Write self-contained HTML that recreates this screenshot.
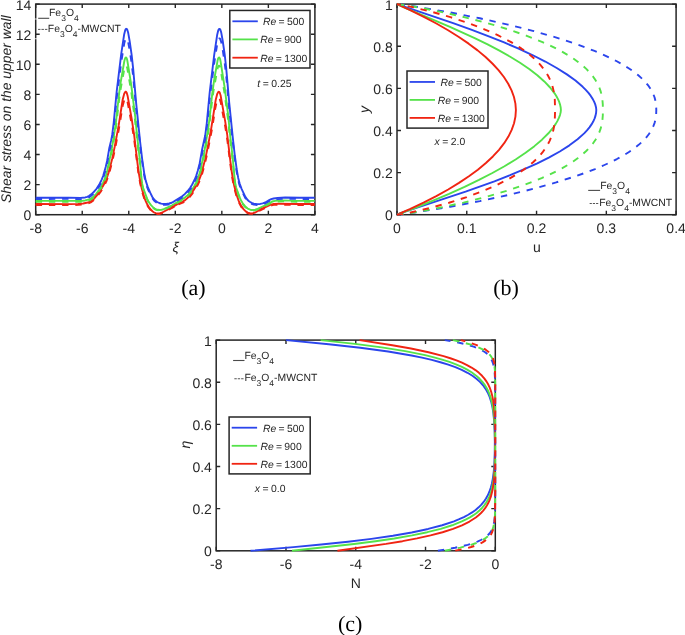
<!DOCTYPE html>
<html><head><meta charset="utf-8"><style>
html,body{margin:0;padding:0;background:#fff}
body{width:685px;height:635px;overflow:hidden}
svg{display:block;will-change:transform}
text{font-family:"Liberation Sans",sans-serif;fill:#262626;text-rendering:geometricPrecision}
.t{font-size:14px}
.l{font-size:10.4px;fill:#262626;word-spacing:-0.6px}
.s{font-size:10.4px;fill:#262626;word-spacing:-0.4px}
.fe{font-size:10.4px;fill:#262626}
.yl{font-size:13.9px;font-style:italic}
.p{font-family:"Liberation Serif",serif;font-size:22px;fill:#000}
</style></head><body>
<svg width="685" height="635" viewBox="0 0 685 635">
<rect width="685" height="635" fill="#fff"/>
<path d="M35.70 214.7v-4M35.70 4.1v4M82.23 214.7v-4M82.23 4.1v4M128.77 214.7v-4M128.77 4.1v4M175.30 214.7v-4M175.30 4.1v4M221.83 214.7v-4M221.83 4.1v4M268.37 214.7v-4M268.37 4.1v4M314.90 214.7v-4M314.90 4.1v4M35.7 214.70h4M314.9 214.70h-4M35.7 184.61h4M314.9 184.61h-4M35.7 154.53h4M314.9 154.53h-4M35.7 124.44h4M314.9 124.44h-4M35.7 94.36h4M314.9 94.36h-4M35.7 64.27h4M314.9 64.27h-4M35.7 34.19h4M314.9 34.19h-4M35.7 4.10h4M314.9 4.10h-4" stroke="#262626" stroke-width="1.4" fill="none"/>
<rect x="35.7" y="4.1" width="279.20" height="210.60" fill="none" stroke="#262626" stroke-width="1.5"/>
<text x="35.70" y="233.20" text-anchor="middle" class="t">-8</text>
<text x="82.23" y="233.20" text-anchor="middle" class="t">-6</text>
<text x="128.77" y="233.20" text-anchor="middle" class="t">-4</text>
<text x="175.30" y="233.20" text-anchor="middle" class="t">-2</text>
<text x="221.83" y="233.20" text-anchor="middle" class="t">0</text>
<text x="268.37" y="233.20" text-anchor="middle" class="t">2</text>
<text x="314.90" y="233.20" text-anchor="middle" class="t">4</text>
<text x="31.40" y="220.30" text-anchor="end" class="t">0</text>
<text x="31.40" y="190.21" text-anchor="end" class="t">2</text>
<text x="31.40" y="160.13" text-anchor="end" class="t">4</text>
<text x="31.40" y="130.04" text-anchor="end" class="t">6</text>
<text x="31.40" y="99.96" text-anchor="end" class="t">8</text>
<text x="31.40" y="69.87" text-anchor="end" class="t">10</text>
<text x="31.40" y="39.79" text-anchor="end" class="t">12</text>
<text x="31.40" y="9.70" text-anchor="end" class="t">14</text>
<path d="M397.00 214.7v-4M397.00 4.1v4M466.77 214.7v-4M466.77 4.1v4M536.55 214.7v-4M536.55 4.1v4M606.33 214.7v-4M606.33 4.1v4M676.10 214.7v-4M676.10 4.1v4M397.0 214.70h4M676.1 214.70h-4M397.0 172.58h4M676.1 172.58h-4M397.0 130.46h4M676.1 130.46h-4M397.0 88.34h4M676.1 88.34h-4M397.0 46.22h4M676.1 46.22h-4M397.0 4.10h4M676.1 4.10h-4" stroke="#262626" stroke-width="1.4" fill="none"/>
<rect x="397.0" y="4.1" width="279.10" height="210.60" fill="none" stroke="#262626" stroke-width="1.5"/>
<text x="397.00" y="233.20" text-anchor="middle" class="t">0</text>
<text x="466.77" y="233.20" text-anchor="middle" class="t">0.1</text>
<text x="536.55" y="233.20" text-anchor="middle" class="t">0.2</text>
<text x="606.33" y="233.20" text-anchor="middle" class="t">0.3</text>
<text x="676.10" y="233.20" text-anchor="middle" class="t">0.4</text>
<text x="392.70" y="220.30" text-anchor="end" class="t">0</text>
<text x="392.70" y="178.18" text-anchor="end" class="t">0.2</text>
<text x="392.70" y="136.06" text-anchor="end" class="t">0.4</text>
<text x="392.70" y="93.94" text-anchor="end" class="t">0.6</text>
<text x="392.70" y="51.82" text-anchor="end" class="t">0.8</text>
<text x="392.70" y="9.70" text-anchor="end" class="t">1</text>
<path d="M216.20 550.8v-4M216.20 340.1v4M285.98 550.8v-4M285.98 340.1v4M355.75 550.8v-4M355.75 340.1v4M425.52 550.8v-4M425.52 340.1v4M495.30 550.8v-4M495.30 340.1v4M216.2 550.80h4M495.3 550.80h-4M216.2 508.66h4M495.3 508.66h-4M216.2 466.52h4M495.3 466.52h-4M216.2 424.38h4M495.3 424.38h-4M216.2 382.24h4M495.3 382.24h-4M216.2 340.10h4M495.3 340.10h-4" stroke="#262626" stroke-width="1.4" fill="none"/>
<rect x="216.2" y="340.1" width="279.10" height="210.70" fill="none" stroke="#262626" stroke-width="1.5"/>
<text x="216.20" y="569.30" text-anchor="middle" class="t">-8</text>
<text x="285.98" y="569.30" text-anchor="middle" class="t">-6</text>
<text x="355.75" y="569.30" text-anchor="middle" class="t">-4</text>
<text x="425.52" y="569.30" text-anchor="middle" class="t">-2</text>
<text x="495.30" y="569.30" text-anchor="middle" class="t">0</text>
<text x="211.90" y="556.40" text-anchor="end" class="t">0</text>
<text x="211.90" y="514.26" text-anchor="end" class="t">0.2</text>
<text x="211.90" y="472.12" text-anchor="end" class="t">0.4</text>
<text x="211.90" y="429.98" text-anchor="end" class="t">0.6</text>
<text x="211.90" y="387.84" text-anchor="end" class="t">0.8</text>
<text x="211.90" y="345.70" text-anchor="end" class="t">1</text>
<path d="M35.70 197.80 68.70 197.67 80.70 197.90 85.20 197.44 87.20 196.83 89.20 195.82 91.20 194.35 93.20 192.56 96.70 188.62 99.70 183.71 101.70 179.61 103.20 175.86 105.70 167.01 107.20 160.40 109.20 148.58 111.20 140.15 112.20 134.92 113.70 122.94 116.70 91.40 121.20 54.11 124.20 34.22 125.20 30.25 125.70 29.24 126.20 28.82 126.70 28.92 127.20 29.56 128.20 32.82 129.70 41.40 131.70 55.35 133.20 69.17 136.20 103.61 140.20 142.52 142.20 159.37 144.20 173.11 145.70 180.62 147.70 186.89 150.20 192.66 152.20 196.72 153.70 199.00 155.20 200.56 157.20 201.99 159.20 202.99 161.20 203.63 163.70 203.98 166.20 203.95 169.20 203.51 171.70 202.72 173.70 201.67 182.20 196.29 184.70 194.11 187.70 190.98 190.20 187.78 192.20 184.51 194.70 179.54 196.20 175.88 197.70 171.00 199.70 163.14 202.20 149.03 205.20 135.51 206.70 123.87 209.70 92.29 214.20 54.88 217.20 34.73 218.20 30.53 218.70 29.39 219.20 28.86 219.70 28.86 220.20 29.38 221.20 32.38 222.70 40.76 224.70 54.56 226.20 68.13 229.20 102.59 232.70 136.83 234.70 154.63 236.70 169.38 238.20 177.96 239.70 183.81 241.70 189.09 245.20 196.59 247.20 199.55 248.70 200.99 250.20 202.04 251.70 202.86 253.70 203.61 257.20 204.12 260.20 203.93 262.70 203.41 265.20 202.45 269.20 200.12 271.20 199.18 273.70 198.49 277.70 197.90 285.20 197.49 299.70 197.78 314.70 197.80" stroke="#2b45ec" stroke-width="1.9" fill="none" stroke-linejoin="round"/>
<path d="M35.70 200.90 79.20 200.92 82.70 200.78 85.20 200.46 89.20 199.32 91.20 198.29 92.70 197.27 94.70 195.50 96.20 193.85 99.70 188.98 101.70 185.53 103.20 182.48 104.70 178.89 106.20 174.55 107.20 170.78 108.70 163.16 110.70 154.59 112.70 143.28 115.70 124.41 119.20 92.97 120.70 82.06 124.20 61.76 124.70 59.59 125.20 58.20 125.70 57.57 126.20 57.57 126.70 58.26 127.20 59.95 131.20 84.71 135.20 116.61 137.20 136.85 139.70 158.60 141.20 175.69 142.20 183.88 143.20 188.03 147.20 198.88 148.20 200.98 149.70 203.44 151.20 205.38 153.20 207.43 154.70 208.55 156.20 209.34 157.70 209.81 159.70 210.01 161.70 209.77 163.70 209.18 171.70 205.64 185.20 197.33 187.70 195.12 189.70 192.86 192.20 189.43 194.20 186.21 196.20 182.36 197.70 178.88 199.20 174.67 200.20 171.05 204.20 152.50 208.20 128.57 209.70 117.18 212.20 93.83 214.20 79.63 217.70 59.97 218.20 58.41 218.70 57.64 219.20 57.52 219.70 58.05 220.20 59.52 220.70 62.15 224.70 87.78 228.20 115.74 230.20 135.88 232.70 157.57 234.20 174.62 235.20 183.28 236.20 187.73 239.70 197.39 241.20 200.78 242.70 203.30 245.20 206.40 247.70 208.52 250.20 209.70 251.70 210.00 253.20 210.04 255.20 209.73 257.70 208.86 265.20 205.41 271.20 202.01 273.20 201.25 275.20 200.82 278.70 200.50 282.70 200.39 298.70 200.89 314.70 200.90" stroke="#55e24a" stroke-width="1.9" fill="none" stroke-linejoin="round"/>
<path d="M35.70 204.00 70.70 204.11 78.20 203.90 83.20 203.45 87.70 202.53 90.70 201.29 92.20 200.33 93.70 199.07 96.70 195.71 100.70 190.09 103.70 184.89 106.70 178.27 108.70 172.35 112.20 158.67 114.70 146.76 118.70 125.13 122.70 99.49 124.20 93.78 125.20 91.98 125.70 91.70 126.20 91.89 126.70 92.67 127.70 96.32 131.70 118.90 134.20 135.45 137.20 161.09 138.70 172.30 140.20 181.35 141.70 188.36 144.20 197.14 145.70 201.15 147.20 204.33 148.70 206.85 150.70 209.50 152.70 211.48 154.20 212.50 155.70 213.15 157.70 213.51 159.70 213.37 161.70 212.78 173.20 206.57 178.20 203.57 182.70 201.56 184.70 200.45 187.20 198.38 190.20 194.94 193.70 190.06 196.70 184.97 199.20 179.69 201.20 174.33 205.20 159.13 207.70 147.32 211.20 128.62 215.70 100.00 217.20 94.04 218.20 92.08 218.70 91.72 219.20 91.81 219.70 92.46 220.70 95.85 225.20 121.32 227.20 134.69 231.20 168.07 232.70 178.00 234.20 185.77 236.20 193.63 238.70 200.91 241.20 205.91 243.70 209.36 245.70 211.34 247.70 212.62 249.70 213.27 251.70 213.38 253.20 213.16 255.20 212.49 261.20 209.18 269.70 205.09 271.70 204.31 273.70 203.88 279.20 203.70 297.20 204.03 314.70 204.00" stroke="#f02412" stroke-width="1.9" fill="none" stroke-linejoin="round"/>
<path d="M35.70 199.00 68.70 198.87 80.70 199.09 85.20 198.65 87.20 198.08 89.20 197.12 91.20 195.72 93.20 194.02 96.70 190.28 99.70 185.62 101.70 181.72 103.20 178.15 105.70 169.75 107.20 163.47 109.20 152.24 111.20 144.23 112.20 139.27 113.70 127.88 116.70 97.92 121.20 62.50 124.20 43.59 125.20 39.83 125.70 38.87 126.20 38.47 126.70 38.56 127.20 39.17 128.20 42.27 129.70 50.42 131.70 63.67 133.20 76.80 136.20 109.52 140.70 150.76 143.70 172.61 145.20 180.60 146.20 184.46 148.20 189.82 152.20 197.98 154.20 200.70 156.70 202.68 158.70 203.73 160.70 204.41 163.20 204.84 165.70 204.87 168.20 204.61 170.70 204.03 172.70 203.22 175.20 201.75" stroke="#2b45ec" stroke-width="1.9" fill="none" stroke-linejoin="round" stroke-dasharray="6.4 6.8" stroke-dashoffset="0.00"/>
<path d="M175.70 201.44 181.20 198.25 183.20 196.80 187.20 193.05 190.20 189.48 193.20 184.59 195.70 179.43 197.20 175.22 199.20 168.07 200.20 163.82 202.70 150.29 204.70 142.44 205.70 136.67 207.20 124.03 209.70 98.77 214.20 63.23 217.20 44.09 218.20 40.10 218.70 39.01 219.20 38.51 219.70 38.50 220.20 39.00 221.20 41.85 222.70 49.81 224.70 62.93 226.20 75.81 229.20 108.55 232.70 141.08 234.70 157.99 236.70 172.00 238.20 180.15 239.70 185.71 241.70 190.72 245.20 197.85 247.20 200.66 248.70 202.03 250.20 203.03 251.70 203.81 253.70 204.52 257.20 205.00 260.20 204.83 262.70 204.33 265.20 203.42 269.20 201.21 271.20 200.31 273.70 199.65 277.70 199.10 285.20 198.70 299.70 198.98 314.70 199.00" stroke="#2b45ec" stroke-width="1.9" fill="none" stroke-linejoin="round" stroke-dasharray="6.4 6.8" stroke-dashoffset="11.50"/>
<path d="M35.70 201.80 79.20 201.82 82.70 201.68 85.20 201.38 89.20 200.29 91.20 199.32 92.70 198.35 94.70 196.67 96.20 195.11 99.70 190.47 101.70 187.20 103.20 184.30 104.70 180.89 106.20 176.77 107.20 173.18 108.70 165.95 110.70 157.81 112.70 147.06 115.70 129.13 119.20 99.27 120.70 88.90 124.20 69.62 125.20 66.23 125.70 65.64 126.20 65.64 126.70 66.29 127.20 67.90 131.20 91.42 135.20 121.73 137.20 140.95 139.70 161.61 141.70 182.34 142.20 185.63 143.20 189.58 146.70 198.71 148.70 202.73 150.20 204.87 152.20 207.10 153.70 208.39 155.70 209.60 157.20 210.14 159.20 210.44 160.70 210.39 162.70 209.98 171.20 206.53 175.20 204.34" stroke="#55e24a" stroke-width="1.9" fill="none" stroke-linejoin="round" stroke-dasharray="6.4 6.8" stroke-dashoffset="0.00"/>
<path d="M175.70 204.02 185.20 198.41 187.70 196.31 189.70 194.16 192.70 190.18 195.20 186.11 197.20 182.05 199.20 176.88 200.20 173.44 202.20 164.09 203.70 158.22 205.20 150.47 208.20 133.09 209.20 126.26 212.20 100.08 213.70 89.52 217.70 67.91 218.20 66.44 218.70 65.70 219.20 65.59 219.70 66.10 220.20 67.49 220.70 69.99 224.70 94.34 228.20 120.90 230.20 140.03 232.70 160.64 234.20 176.83 235.20 185.07 236.20 189.29 239.70 198.47 241.20 201.69 242.70 204.08 245.20 207.02 247.70 209.04 250.20 210.16 251.70 210.45 253.20 210.48 255.20 210.18 257.70 209.37 265.20 206.08 271.20 202.86 273.20 202.13 275.20 201.72 282.70 201.32 298.70 201.79 314.70 201.80" stroke="#55e24a" stroke-width="1.9" fill="none" stroke-linejoin="round" stroke-dasharray="6.4 6.8" stroke-dashoffset="12.07"/>
<path d="M35.70 205.00 70.70 205.10 78.20 204.91 83.20 204.48 87.70 203.60 90.70 202.43 93.70 200.32 96.70 197.12 100.70 191.78 103.70 186.84 106.70 180.55 108.70 174.94 112.20 161.94 114.70 150.63 118.70 130.07 122.70 105.71 124.20 100.29 125.20 98.58 125.70 98.32 126.20 98.50 126.70 99.23 127.70 102.71 132.20 127.03 134.20 139.88 138.20 171.56 140.20 183.49 142.70 193.81 144.20 198.49 145.70 202.29 148.20 206.97 151.20 210.76 153.70 212.79 155.20 213.53 156.70 213.93 159.20 213.97 162.20 213.14 175.20 206.30" stroke="#f02412" stroke-width="1.9" fill="none" stroke-linejoin="round" stroke-dasharray="6.4 6.8" stroke-dashoffset="0.00"/>
<path d="M175.70 206.00 178.20 204.59 182.70 202.68 184.70 201.62 186.70 200.12 188.70 198.13 192.20 193.84 195.20 189.47 197.70 185.05 200.20 179.54 201.70 175.26 202.70 171.74 205.20 162.37 207.20 153.57 211.70 130.66 215.20 108.88 216.20 103.92 216.70 102.04 217.70 99.42 218.20 98.68 218.70 98.33 219.20 98.42 219.70 99.04 220.70 102.26 225.20 126.45 227.20 139.16 231.20 170.87 232.70 180.30 234.20 187.68 236.20 195.14 238.70 202.06 241.20 206.81 243.70 210.09 245.70 211.97 247.70 213.19 249.70 213.81 251.70 213.91 253.20 213.70 255.20 213.06 261.20 209.92 269.70 206.04 271.70 205.29 273.70 204.89 279.20 204.71 297.20 205.03 314.70 205.00" stroke="#f02412" stroke-width="1.9" fill="none" stroke-linejoin="round" stroke-dasharray="6.4 6.8" stroke-dashoffset="10.07"/>
<path d="M397.00 214.70 400.90 213.12 408.82 210.37 465.58 191.61 494.43 181.27 510.11 175.18 524.35 169.22 537.30 163.33 548.79 157.60 559.81 151.46 569.43 145.35 577.56 139.31 584.17 133.39 586.98 130.41 589.47 127.37 591.54 124.41 593.20 121.54 594.54 118.62 595.52 115.65 596.10 112.78 596.30 110.00 596.05 107.47 595.34 104.70 594.22 101.83 592.67 98.86 590.77 95.95 588.47 92.95 585.75 89.87 582.73 86.84 575.46 80.59 566.87 74.36 556.72 67.96 545.28 61.54 532.90 55.27 519.18 48.90 504.14 42.44 487.51 35.79 471.17 29.63 453.12 23.16 397.00 4.10" stroke="#2b45ec" stroke-width="1.9" fill="none" stroke-linejoin="round"/>
<path d="M397.00 214.70 414.71 208.01 432.43 200.91 449.08 193.85 464.58 186.86 478.99 179.92 492.37 173.00 504.49 166.22 515.62 159.44 525.58 152.76 534.40 146.14 541.99 139.66 548.42 133.27 553.61 126.99 555.73 123.89 557.50 120.88 558.91 117.95 559.97 115.10 560.65 112.36 560.90 110.00 560.69 107.47 560.14 104.84 559.22 101.96 557.99 99.13 556.43 96.21 554.61 93.33 550.07 87.47 544.30 81.44 537.32 75.29 529.20 69.06 520.01 62.80 510.21 56.76 499.47 50.67 487.59 44.43 474.67 38.07 449.93 26.80 405.70 8.09 397.00 4.10" stroke="#55e24a" stroke-width="1.9" fill="none" stroke-linejoin="round"/>
<path d="M397.00 214.70 409.83 209.12 423.54 202.63 436.30 196.09 448.20 189.46 458.99 182.91 468.92 176.28 477.87 169.68 485.89 163.03 492.89 156.46 499.01 149.82 504.19 143.17 508.40 136.56 511.69 129.91 514.04 123.24 515.44 116.60 515.90 110.00 515.41 103.60 513.96 97.00 511.55 90.38 508.22 83.75 503.90 77.03 498.71 70.39 492.61 63.75 485.55 57.05 477.60 50.38 468.65 43.64 458.85 36.96 448.11 30.26 436.38 23.53 423.81 16.84 410.22 10.14 397.00 4.10" stroke="#f02412" stroke-width="1.9" fill="none" stroke-linejoin="round"/>
<path d="M397.00 214.70 406.32 213.62 420.01 211.69 450.16 206.75 479.87 201.11 508.08 195.01 533.23 188.84 556.12 182.45 576.68 175.86 586.15 172.47 595.02 169.03 602.83 165.75 610.05 162.44 616.86 159.03 623.05 155.62 628.61 152.22 633.73 148.72 638.36 145.12 642.36 141.54 645.87 137.88 648.79 134.25 651.22 130.53 653.15 126.73 654.61 122.85 655.59 118.88 656.14 114.70 656.30 110.00 656.13 105.39 655.56 101.29 654.52 97.27 653.04 93.46 651.10 89.74 648.60 85.97 645.59 82.29 642.11 78.69 638.01 75.05 633.44 71.51 628.25 67.96 622.60 64.49 616.33 61.02 609.64 57.66 602.36 54.29 594.49 50.95 585.80 47.53 576.29 44.08 555.68 37.35 532.79 30.82 507.95 24.57 479.86 18.30 450.33 12.49 420.09 7.31 406.45 5.28 397.00 4.10" stroke="#2b45ec" stroke-width="1.9" fill="none" stroke-linejoin="round" stroke-dasharray="6.4 6.8" stroke-dashoffset="0.07"/>
<path d="M397.00 214.70 404.52 213.83 415.35 212.19 439.65 207.76 463.46 202.58 486.37 196.79 506.60 190.88 525.05 184.65 533.57 181.43 541.65 178.12 549.04 174.83 556.12 171.40 562.31 168.10 568.01 164.79 573.19 161.45 578.01 158.01 582.31 154.57 586.22 151.02 589.73 147.38 592.74 143.75 595.35 140.02 597.49 136.32 599.30 132.40 600.71 128.39 601.74 124.28 602.42 120.08 602.80 115.51 602.90 110.00 602.80 104.56 602.43 99.94 601.76 95.68 600.76 91.66 599.40 87.72 597.65 83.87 595.51 80.12 592.98 76.45 589.96 72.76 586.54 69.17 582.72 65.67 578.39 62.17 573.67 58.77 568.44 55.37 562.85 52.08 556.76 48.81 549.79 45.39 542.50 42.11 526.11 35.56 507.87 29.28 487.82 23.28 465.06 17.34 440.98 11.87 416.19 7.05 404.84 5.16 397.00 4.10" stroke="#55e24a" stroke-width="1.9" fill="none" stroke-linejoin="round" stroke-dasharray="6.4 6.8" stroke-dashoffset="-0.32"/>
<path d="M397.00 214.70 402.99 213.83 411.50 212.21 430.44 207.86 448.99 202.77 466.74 197.08 482.32 191.28 496.60 185.10 509.22 178.70 514.89 175.43 520.28 172.03 524.87 168.85 529.18 165.55 533.10 162.25 536.72 158.83 539.94 155.41 542.86 151.89 545.47 148.27 547.75 144.55 549.65 140.84 551.25 137.04 552.54 133.14 553.55 129.15 554.28 125.06 554.77 120.61 555.10 110.00 554.79 99.40 554.32 95.03 553.61 90.89 552.62 86.84 551.33 82.89 549.78 79.16 547.94 75.52 545.73 71.85 543.20 68.29 540.37 64.81 537.14 61.33 533.60 57.96 529.78 54.68 525.55 51.42 520.93 48.17 515.76 44.86 510.19 41.60 497.74 35.17 483.78 29.01 468.15 23.04 450.47 17.19 431.80 11.83 412.26 7.05 403.23 5.16 397.00 4.10" stroke="#f02412" stroke-width="1.9" fill="none" stroke-linejoin="round" stroke-dasharray="6.4 6.8" stroke-dashoffset="0.24"/>
<path d="M250.53 550.80 293.45 547.15 321.19 544.57 347.97 541.73 371.35 538.85 392.93 535.72 411.72 532.45 428.17 528.95 442.16 525.26 453.99 521.32 459.20 519.22 463.90 517.06 468.24 514.77 472.09 512.41 475.60 509.91 478.64 507.35 481.37 504.64 483.84 501.68 485.98 498.57 487.81 495.30 489.38 491.76 490.74 487.86 491.86 483.68 492.78 479.01 493.74 471.82 494.39 463.30 494.75 453.11 494.84 441.42 494.63 430.55 494.15 421.22 493.40 413.36 492.34 406.71 491.15 401.63 489.64 396.97 487.79 392.71 485.60 388.84 483.01 385.26 479.93 381.87 476.44 378.75 472.44 375.80 467.49 372.79 461.74 369.89 455.33 367.18 448.28 364.64 440.42 362.22 431.75 359.91 422.03 357.65 411.55 355.52 388.12 351.54 360.27 347.75 328.83 344.22 285.99 340.10" stroke="#2b45ec" stroke-width="1.9" fill="none" stroke-linejoin="round"/>
<path d="M291.97 550.80 354.05 543.99 375.50 541.23 394.32 538.44 411.96 535.38 427.30 532.20 440.72 528.81 452.14 525.26 461.79 521.47 466.05 519.45 469.89 517.39 473.44 515.18 476.59 512.92 479.45 510.52 482.02 507.97 484.23 505.37 486.24 502.52 487.97 499.52 489.44 496.36 490.71 492.95 491.80 489.17 493.40 480.68 494.16 473.52 494.66 464.93 494.92 454.32 494.95 442.08 494.74 430.98 494.31 421.55 493.67 413.67 492.77 406.91 491.73 401.63 490.47 396.97 488.93 392.71 487.06 388.75 484.92 385.17 482.38 381.78 479.41 378.58 476.12 375.64 471.93 372.55 467.18 369.66 461.90 366.96 455.92 364.36 449.44 361.95 442.07 359.59 434.03 357.35 425.12 355.18 405.15 351.14 381.73 347.38 354.87 343.87 320.71 340.10" stroke="#55e24a" stroke-width="1.9" fill="none" stroke-linejoin="round"/>
<path d="M337.43 550.80 386.04 543.92 402.54 541.19 416.99 538.44 430.54 535.44 442.55 532.26 453.06 528.88 461.98 525.33 469.51 521.55 475.82 517.47 478.58 515.26 481.02 513.00 483.23 510.60 485.16 508.15 486.87 505.55 488.37 502.80 489.72 499.80 490.85 496.65 492.65 489.57 493.88 481.10 494.46 474.06 494.84 465.68 495.15 442.42 494.82 420.15 494.42 412.10 493.83 405.38 493.14 400.33 492.28 395.89 491.21 391.85 489.94 388.19 488.42 384.81 486.59 381.61 484.45 378.58 482.05 375.80 478.95 372.87 475.44 370.12 471.50 367.55 467.02 365.07 461.99 362.70 456.42 360.43 450.32 358.27 443.54 356.16 428.50 352.25 410.91 348.55 392.30 345.26 359.64 340.10" stroke="#f02412" stroke-width="1.9" fill="none" stroke-linejoin="round"/>
<path d="M437.29 550.80 455.08 547.76 467.69 544.86 472.95 543.27 477.47 541.60 481.42 539.76 484.68 537.81 487.29 535.78 489.49 533.49 491.21 530.99 492.55 528.20 493.55 525.04 494.27 521.39 494.76 516.98 495.06 511.47 495.29 488.36 495.20 386.90 495.00 378.58 494.63 372.55 494.02 367.77 493.11 363.80 492.29 361.42 491.26 359.21 489.99 357.17 488.53 355.35 486.77 353.62 484.78 352.05 479.89 349.17 473.65 346.60 465.83 344.26 456.44 342.14 444.84 340.10" stroke="#2b45ec" stroke-width="1.9" fill="none" stroke-linejoin="round" stroke-dasharray="6.4 6.8" stroke-dashoffset="-0.66"/>
<path d="M444.56 550.80 460.32 547.62 470.98 544.83 475.55 543.27 479.49 541.64 482.87 539.90 485.67 538.08 488.01 536.12 489.94 533.97 491.48 531.63 492.70 529.02 493.60 526.11 494.28 522.68 494.75 518.59 495.05 513.51 495.29 492.85 495.25 383.11 494.89 370.43 494.46 366.30 493.83 362.90 492.38 358.70 491.38 356.87 490.22 355.23 487.22 352.25 483.20 349.58 478.12 347.18 471.81 344.96 464.84 343.01 452.67 340.10" stroke="#55e24a" stroke-width="1.9" fill="none" stroke-linejoin="round" stroke-dasharray="6.4 6.8" stroke-dashoffset="-0.30"/>
<path d="M454.67 550.80 466.34 548.33 471.17 547.01 475.48 545.57 479.25 544.03 482.49 542.39 485.25 540.63 487.58 538.70 489.45 536.68 490.99 534.45 492.22 532.01 493.20 529.22 493.93 526.11 494.47 522.46 495.08 512.66 495.29 490.47 495.27 382.05 494.99 369.89 494.67 365.93 494.17 362.63 493.03 358.58 491.29 355.18 488.87 352.25 485.68 349.67 481.73 347.38 476.73 345.19 471.43 343.33 460.93 340.10" stroke="#f02412" stroke-width="1.9" fill="none" stroke-linejoin="round" stroke-dasharray="6.4 6.8" stroke-dashoffset="-0.60"/>
<rect x="229.8" y="10.45" width="80.20" height="57.55" fill="#fff" stroke="#262626" stroke-width="1.5"/>
<path d="M232.4 21.3H257.8" stroke="#2b45ec" stroke-width="1.8"/>
<text x="263" y="25.3" class="l"><tspan font-style="italic">Re</tspan> = 500</text>
<path d="M232.4 39.4H257.8" stroke="#55e24a" stroke-width="1.8"/>
<text x="260.2" y="43.4" class="l"><tspan font-style="italic">Re</tspan> = 900</text>
<path d="M232.4 57.7H257.8" stroke="#f02412" stroke-width="1.8"/>
<text x="260.2" y="61.7" class="l"><tspan font-style="italic">Re</tspan> = 1300</text>
<rect x="407" y="71" width="81.00" height="57.10" fill="#fff" stroke="#262626" stroke-width="1.5"/>
<path d="M409.6 81.95H435" stroke="#2b45ec" stroke-width="1.8"/>
<text x="440.5" y="85.95" class="l"><tspan font-style="italic">Re</tspan> = 500</text>
<path d="M409.6 99.9H435" stroke="#55e24a" stroke-width="1.8"/>
<text x="437.8" y="103.9" class="l"><tspan font-style="italic">Re</tspan> = 900</text>
<path d="M409.6 117.9H435" stroke="#f02412" stroke-width="1.8"/>
<text x="437.8" y="121.9" class="l"><tspan font-style="italic">Re</tspan> = 1300</text>
<rect x="229.1" y="417" width="81.10" height="56.90" fill="#fff" stroke="#262626" stroke-width="1.5"/>
<path d="M231.7 427.7H257.1" stroke="#2b45ec" stroke-width="1.8"/>
<text x="263" y="431.7" class="l"><tspan font-style="italic">Re</tspan> = 500</text>
<path d="M231.7 445.8H257.1" stroke="#55e24a" stroke-width="1.8"/>
<text x="260.4" y="449.8" class="l"><tspan font-style="italic">Re</tspan> = 900</text>
<path d="M231.7 463.8H257.1" stroke="#f02412" stroke-width="1.8"/>
<text x="260.4" y="467.8" class="l"><tspan font-style="italic">Re</tspan> = 1300</text>
<text x="257.3" y="86.5" class="s"><tspan font-style="italic">t</tspan> = 0.25</text>
<text x="434.5" y="144.5" class="s"><tspan font-style="italic">x</tspan> = 2.0</text>
<text x="254.8" y="492" class="s"><tspan font-style="italic">x</tspan> = 0.0</text>
<rect x="34" y="18.6" width="4" height="0.8" fill="#fff"/>
<rect x="34" y="38.4" width="4" height="0.8" fill="#fff"/>
<path d="M38.2 18.3H49.2" stroke="#4a4a4a" stroke-width="1.1"/>
<text x="49.0" y="16.25" class="fe">Fe<tspan dy="5" font-size="8.5">3</tspan><tspan dy="-5">O</tspan><tspan dy="5" font-size="8.5">4</tspan></text>
<path d="M38.05 29.4h2.43M41.48 29.4h2.43M44.92 29.4h2.43" stroke="#555" stroke-width="1.0"/>
<text x="47.8" y="31.7" class="fe">Fe<tspan dy="5" font-size="8.5">3</tspan><tspan dy="-5">O</tspan><tspan dy="5" font-size="8.5">4</tspan><tspan dy="-5">-MWCNT</tspan></text>
<path d="M588.2 190.4H600.1" stroke="#4a4a4a" stroke-width="1.1"/>
<text x="600.2" y="188.7" class="fe">Fe<tspan dy="5" font-size="8.5">3</tspan><tspan dy="-5">O</tspan><tspan dy="5" font-size="8.5">4</tspan></text>
<path d="M589.65 203.5h2.20M592.85 203.5h2.20M596.05 203.5h2.20" stroke="#555" stroke-width="1.0"/>
<text x="599.2" y="205.8" class="fe">Fe<tspan dy="5" font-size="8.5">3</tspan><tspan dy="-5">O</tspan><tspan dy="5" font-size="8.5">4</tspan><tspan dy="-5">-MWCNT</tspan></text>
<path d="M233.1 360.5H244.5" stroke="#4a4a4a" stroke-width="1.1"/>
<text x="244.4" y="358.7" class="fe">Fe<tspan dy="5" font-size="8.5">3</tspan><tspan dy="-5">O</tspan><tspan dy="5" font-size="8.5">4</tspan></text>
<path d="M234.35 378.75h2.40M237.75 378.75h2.40M241.15 378.75h2.40" stroke="#555" stroke-width="1.0"/>
<text x="244.4" y="380.7" class="fe">Fe<tspan dy="5" font-size="8.5">3</tspan><tspan dy="-5">O</tspan><tspan dy="5" font-size="8.5">4</tspan><tspan dy="-5">-MWCNT</tspan></text>
<text transform="translate(10.6,109.2) rotate(-90)" text-anchor="middle" class="yl">Shear stress on the upper wall</text>
<text x="175.6" y="252.3" text-anchor="middle" font-family="Liberation Serif" font-style="italic" font-size="14" fill="#262626">ξ</text>
<text x="536.9" y="252" text-anchor="middle" class="t">u</text>
<text transform="translate(368.6,109.4) rotate(-90)" text-anchor="middle" class="t" font-style="italic">y</text>
<text x="355.9" y="587.5" text-anchor="middle" class="t">N</text>
<text transform="translate(189.6,444.6) rotate(-90)" text-anchor="middle" font-family="Liberation Serif" font-style="italic" font-size="14" fill="#262626">η</text>
<text x="193.45" y="295" text-anchor="middle" class="p">(a)</text>
<text x="506.05" y="295" text-anchor="middle" class="p">(b)</text>
<text x="350.25" y="631" text-anchor="middle" class="p">(c)</text>
</svg></body></html>
